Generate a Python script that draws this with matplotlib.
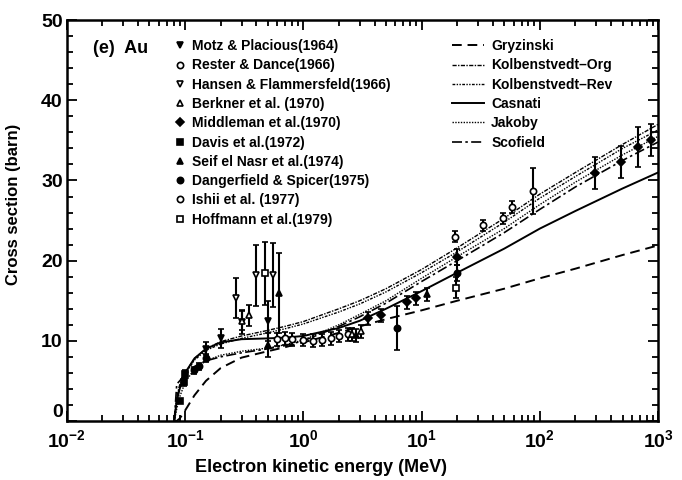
import matplotlib
matplotlib.use("Agg")
import matplotlib.pyplot as plt
from matplotlib.lines import Line2D
import numpy as np

plt.rcParams['font.family'] = ['Liberation Sans', 'DejaVu Sans']
plt.rcParams['font.weight'] = 'bold'
plt.rcParams['axes.labelweight'] = 'bold'

# theory curves (MeV, barn)
e_curve = [0.081, 0.085, 0.09, 0.1, 0.12, 0.15, 0.2, 0.3, 0.5, 0.7, 1, 2, 3, 5, 10, 20, 50, 100, 200, 500, 1000]
gryzinski = [0, 0, 0.3, 1.3, 3.2, 5.0, 6.6, 7.9, 8.7, 9.2, 9.8, 11.0, 11.8, 12.7, 13.8, 15.0, 16.5, 17.8, 19.0, 20.7, 21.9]
kolb_org = [0, 3.0, 4.5, 6.0, 7.8, 9.0, 9.9, 10.6, 11.3, 11.8, 12.4, 14.0, 15.0, 16.5, 18.9, 21.6, 25.3, 28.3, 31.0, 34.5, 37.0]
kolb_rev = [0, 2.8, 4.3, 5.8, 7.6, 8.8, 9.6, 10.3, 11.0, 11.5, 12.1, 13.6, 14.6, 16.1, 18.5, 21.1, 24.8, 27.8, 30.5, 34.0, 36.3]
casnati = [0, 2.5, 4.0, 6.0, 7.8, 9.0, 9.8, 10.2, 10.3, 10.4, 10.6, 11.6, 12.5, 14.0, 16.2, 18.5, 21.5, 24.0, 26.2, 29.0, 31.0]
jakoby = [0, 1.5, 3.0, 4.8, 6.5, 7.5, 8.2, 8.7, 9.1, 9.5, 10.1, 12.0, 13.3, 15.0, 17.8, 20.5, 24.0, 27.0, 29.8, 33.2, 35.5]
scofield = [0, 4.6, 5.0, 5.8, 6.8, 7.5, 8.0, 8.5, 9.0, 9.4, 10.0, 11.8, 13.0, 14.7, 17.4, 20.0, 23.5, 26.4, 29.2, 32.5, 34.8]

# experiments: energy, cross section, error
motz_e = [0.15, 0.2, 0.3, 0.5]
motz_v = [9.0, 10.3, 12.3, 12.5]
motz_err = [0.8, 1.2, 1.5, 2.5]

rester_e = [0.6, 0.7, 0.8, 1.0, 1.2, 1.45, 1.7, 2.0, 2.4]
rester_v = [10.2, 10.3, 10.2, 10.1, 10.0, 10.1, 10.3, 10.6, 10.8]
rester_err = [0.8, 0.8, 0.8, 0.8, 0.8, 0.8, 0.8, 0.8, 0.8]

hansen_e = [0.27, 0.4, 0.55]
hansen_v = [15.3, 18.2, 18.2]
hansen_err = [2.5, 3.8, 4.0]

berkner_e = [0.3, 0.35, 2.6, 3.1]
berkner_v = [12.5, 13.2, 10.8, 11.2]
berkner_err = [1.2, 1.3, 0.8, 0.8]

middleman_e = [3.5, 4.5, 7.5, 9.0, 20.0, 290, 490, 680, 870]
middleman_v = [12.8, 13.2, 14.8, 15.3, 20.5, 30.9, 32.3, 34.2, 35.0]
middleman_err = [0.8, 0.8, 0.8, 0.8, 1.0, 2.0, 2.0, 2.5, 2.0]

davis_e = [0.09, 0.097, 0.1]
davis_v = [2.5, 4.8, 5.8]
davis_err = [0.3, 0.5, 0.5]

seif_e = [0.5, 0.62, 2.8, 11.0]
seif_v = [9.5, 16.0, 10.7, 15.8]
seif_err = [1.5, 5.0, 0.8, 0.8]

dangerfield_e = [0.12, 0.13, 0.15, 6.2, 20.0]
dangerfield_v = [6.3, 6.8, 7.8, 11.6, 18.5]
dangerfield_err = [0.4, 0.4, 0.5, 2.7, 1.0]

ishii_e = [19.2, 33, 49, 58, 88]
ishii_v = [23.0, 24.4, 25.3, 26.7, 28.7]
ishii_err = [0.7, 0.7, 0.7, 0.7, 2.9]

hoffmann_e = [0.47, 19.5]
hoffmann_v = [18.4, 16.6]
hoffmann_err = [3.9, 1.3]

fig = plt.figure(figsize=(6.82, 4.80), dpi=100)
ax = fig.add_axes([0.098, 0.123, 0.867, 0.835])

ax.plot(e_curve, gryzinski, color='black', lw=1.4, dashes=(5, 3), label='Gryzinski')
ax.plot(e_curve, kolb_org, color='black', lw=1.0, dashes=(3, 1, 1, 1), label='Kolbenstvedt\u2013Org')
ax.plot(e_curve, kolb_rev, color='black', lw=1.0, dashes=(2, 1, 1, 1, 1, 1), label='Kolbenstvedt\u2013Rev')
ax.plot(e_curve, casnati, color='black', lw=1.4, ls='-', label='Casnati')
ax.plot(e_curve, jakoby, color='black', lw=1.0, dashes=(1, 1), label='Jakoby')
ax.plot(e_curve, scofield, color='black', lw=1.2, dashes=(6, 2, 1.5, 2), label='Scofield')

series = [
    (motz_e, motz_v, motz_err, 'v', 'black', 'Motz & Placious(1964)'),
    (rester_e, rester_v, rester_err, 'o', 'white', 'Rester & Dance(1966)'),
    (hansen_e, hansen_v, hansen_err, 'v', 'white', 'Hansen & Flammersfeld(1966)'),
    (berkner_e, berkner_v, berkner_err, '^', 'white', 'Berkner et al. (1970)'),
    (middleman_e, middleman_v, middleman_err, 'D', 'black', 'Middleman et al.(1970)'),
    (davis_e, davis_v, davis_err, 's', 'black', 'Davis et al.(1972)'),
    (seif_e, seif_v, seif_err, '^', 'black', 'Seif el Nasr et al.(1974)'),
    (dangerfield_e, dangerfield_v, dangerfield_err, 'o', 'black', 'Dangerfield & Spicer(1975)'),
    (ishii_e, ishii_v, ishii_err, 'o', 'white', 'Ishii et al. (1977)'),
    (hoffmann_e, hoffmann_v, hoffmann_err, 's', 'white', 'Hoffmann et al.(1979)'),
]
handles_exp = []
for e, v, err, mk, fc, lab in series:
    ms = 4.5 if mk != 'D' else 4
    ax.errorbar(e, v, yerr=err, fmt=mk, mfc=fc, mec='black', mew=1.2, ms=ms,
                ecolor='black', elinewidth=1.5, capsize=2.5, capthick=1.3, zorder=3)
    handles_exp.append(Line2D([], [], ls='none', marker=mk, mfc=fc, mec='black', mew=1.2, ms=ms, label=lab))

ax.set_xscale('log')
ax.set_xlim(1e-2, 1e3)
ax.set_ylim(0, 50)
ax.set_yticks([0, 10, 20, 30, 40, 50])
ax.set_yticks(np.arange(0, 51, 2), minor=True)
ax.tick_params(which='both', direction='in', top=True, right=True, width=1.3)
ax.tick_params(which='major', length=7, labelsize=14)
ax.tick_params(which='minor', length=4)
ax.tick_params(axis='x', which='major', pad=6)
ax.tick_params(axis='y', which='major', pad=3)
for s in ax.spines.values():
    s.set_linewidth(1.8)
# the "0" sits just above the corner, clear of 10^-2
ax.yaxis.get_majorticklabels()[0].set_verticalalignment('bottom')

ax.set_xlabel('Electron kinetic energy (MeV)', fontsize=13)
ax.xaxis.set_label_coords(0.43, -0.095)
ax.set_ylabel('Cross section (barn)', fontsize=12)
ax.yaxis.set_label_coords(-0.078, 0.54)

ax.text(0.045, 0.95, '(e)  Au', transform=ax.transAxes, fontsize=13, va='top')

leg1 = ax.legend(handles=handles_exp, loc='upper left', bbox_to_anchor=(0.17, 0.97),
                 frameon=False, fontsize=10, handlelength=0.8, handletextpad=0.5,
                 labelspacing=0.38, borderpad=0)
ax.add_artist(leg1)
ax.legend(loc='upper left', bbox_to_anchor=(0.64, 0.97), frameon=False, fontsize=10,
          handlelength=2.3, handletextpad=0.5, labelspacing=0.38, borderpad=0)

fig.savefig('out.png', dpi=100)
